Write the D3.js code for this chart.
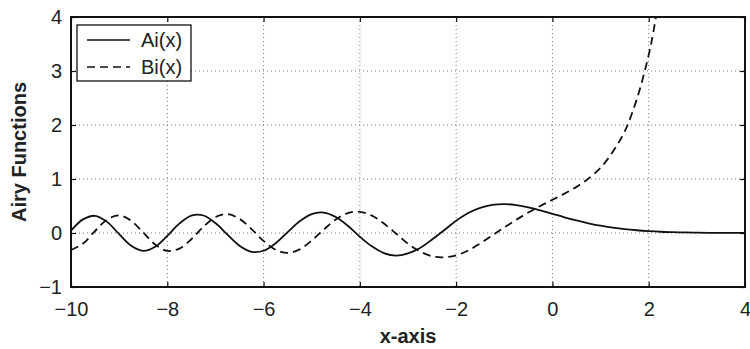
<!DOCTYPE html>
<html>
<head>
<meta charset="utf-8">
<script src="https://cdn.jsdelivr.net/npm/d3@7"></script>
<style>
	body { margin: 0; background: #fff; }
	svg { display: block; font-family: "Liberation Sans", Arial, sans-serif; }
	.tick-label { font-size: 20px; fill: #222; }
	.axis-title { font-size: 20px; font-weight: bold; fill: #222; }
</style>
</head>
<body>
<svg id="chart" width="750" height="349"></svg>
<script>
// values
const xVals = [-10, -9.75, -9.5, -9.25, -9, -8.75, -8.5, -8.25, -8, -7.75, -7.5, -7.25, -7, -6.75, -6.5, -6.25, -6,
	-5.75, -5.5, -5.25, -5, -4.75, -4.5, -4.25, -4, -3.75, -3.5, -3.25, -3, -2.75, -2.5, -2.25, -2,
	-1.75, -1.5, -1.25, -1, -0.75, -0.5, -0.25, 0, 0.25, 0.5, 0.75, 1, 1.25, 1.5, 1.75, 2,
	2.25, 2.5, 2.75, 3, 3.25, 3.5, 3.75, 4];
const aiVals = [0.042, 0.252, 0.319, 0.206, -0.022, -0.237, -0.330, -0.255, -0.053, 0.173, 0.321, 0.324, 0.184, -0.031, -0.237, -0.349, -0.329,
	-0.191, 0.015, 0.217, 0.351, 0.377, 0.295, 0.133, -0.070, -0.247, -0.373, -0.420, -0.379, -0.277, -0.120, 0.050, 0.227,
	0.370, 0.464, 0.520, 0.536, 0.516, 0.476, 0.419, 0.355, 0.291, 0.232, 0.180, 0.135, 0.100, 0.072, 0.051, 0.035,
	0.023, 0.016, 0.010, 0.0066, 0.0041, 0.0025, 0.0015, 0.0010];
const biXVals = [-10, -9.75, -9.5, -9.25, -9, -8.75, -8.5, -8.25, -8, -7.75, -7.5, -7.25, -7, -6.75, -6.5, -6.25, -6,
	-5.75, -5.5, -5.25, -5, -4.75, -4.5, -4.25, -4, -3.75, -3.5, -3.25, -3, -2.75, -2.5, -2.25, -2,
	-1.75, -1.5, -1.25, -1, -0.75, -0.5, -0.25, 0, 0.25, 0.5, 0.75, 1, 1.25, 1.5, 1.75, 2, 2.1, 2.2];
const biVals = [-0.315, -0.196, 0.037, 0.249, 0.325, 0.226, 0.009, -0.214, -0.331, -0.290, -0.115, 0.114, 0.294, 0.349, 0.263, 0.073, -0.147,
	-0.310, -0.368, -0.303, -0.138, 0.063, 0.251, 0.370, 0.392, 0.321, 0.175, -0.009, -0.198, -0.340, -0.431, -0.450, -0.412,
	-0.325, -0.192, -0.047, 0.104, 0.245, 0.380, 0.501, 0.615, 0.729, 0.854, 1.010, 1.207, 1.500, 1.879, 2.470, 3.298, 3.740, 4.270];
const xTicks = [-10, -8, -6, -4, -2, 0, 2, 4];
const yTicks = [-1, 0, 1, 2, 3, 4];

const svg = d3.select("#chart"),
			margin = {top: 17, right: 5, bottom: 62, left: 71},
			width = 750 - margin.left - margin.right,
			height = 349 - margin.top - margin.bottom;

const x = d3.scaleLinear().domain([-10, 4]).range([margin.left, margin.left + width]),
			y = d3.scaleLinear().domain([-1, 4]).range([margin.top + height, margin.top]);

svg.append("defs").append("clipPath").attr("id", "clip")
	.append("rect")
	.attr("x", margin.left).attr("y", margin.top)
	.attr("width", width).attr("height", height);

// dotted grid
const grid = svg.append("g").attr("stroke", "#777").attr("stroke-width", 1).attr("stroke-dasharray", "1,3");
grid.selectAll(".gx").data(xTicks.slice(1, -1)).join("line")
	.attr("x1", d => x(d)).attr("x2", d => x(d))
	.attr("y1", margin.top).attr("y2", margin.top + height);
grid.selectAll(".gy").data(yTicks.slice(1, -1)).join("line")
	.attr("y1", d => y(d)).attr("y2", d => y(d))
	.attr("x1", margin.left).attr("x2", margin.left + width);

// curves
const line = d3.line().curve(d3.curveCatmullRom.alpha(0.5));
const plot = svg.append("g").attr("clip-path", "url(#clip)");
plot.append("path")
	.attr("d", line(xVals.map((v, i) => [x(v), y(aiVals[i])])))
	.attr("fill", "none").attr("stroke", "#111").attr("stroke-width", 1.8);
plot.append("path")
	.attr("d", line(biXVals.map((v, i) => [x(v), y(biVals[i])])))
	.attr("fill", "none").attr("stroke", "#111").attr("stroke-width", 1.8)
	.attr("stroke-dasharray", "8,5");

// axes: MATLAB style box with inward ticks
const tickLen = 5,
			minus = d => d < 0 ? "\u2212" + Math.abs(d) : d;
const axBottom = svg.append("g").attr("transform", `translate(0,${margin.top + height})`)
	.call(d3.axisBottom(x).tickValues(xTicks).tickSize(-tickLen).tickPadding(15).tickFormat(minus));
const axTop = svg.append("g").attr("transform", `translate(0,${margin.top})`)
	.call(d3.axisTop(x).tickValues(xTicks).tickSize(-tickLen).tickFormat(""));
const axLeft = svg.append("g").attr("transform", `translate(${margin.left},0)`)
	.call(d3.axisLeft(y).tickValues(yTicks).tickSize(-tickLen).tickPadding(9).tickFormat(minus));
const axRight = svg.append("g").attr("transform", `translate(${margin.left + width},0)`)
	.call(d3.axisRight(y).tickValues(yTicks).tickSize(-tickLen).tickFormat(""));

[axBottom, axTop, axLeft, axRight].forEach(g => {
	g.attr("font-size", null).attr("font-family", null);
	g.select(".domain").remove();
	g.selectAll(".tick line").attr("stroke", "#111").attr("stroke-width", 1.2);
	g.selectAll(".tick text").attr("class", "tick-label");
});

svg.append("rect")
	.attr("x", margin.left).attr("y", margin.top)
	.attr("width", width).attr("height", height)
	.attr("fill", "none").attr("stroke", "#111").attr("stroke-width", 2);

// labels
svg.append("text").attr("class", "axis-title")
	.attr("x", margin.left + width / 2).attr("y", 343)
	.attr("text-anchor", "middle").text("x-axis");
svg.append("text").attr("class", "axis-title")
	.attr("transform", `translate(26,${margin.top + height / 2}) rotate(-90)`)
	.attr("text-anchor", "middle").text("Airy Functions");

// legend
const legend = svg.append("g").attr("transform", "translate(77,25)");
legend.append("rect").attr("width", 114).attr("height", 56)
	.attr("fill", "#fff").attr("stroke", "#111").attr("stroke-width", 1.3);
const items = [{name: "Ai(x)", dash: null}, {name: "Bi(x)", dash: "8,5"}];
items.forEach((it, i) => {
	const row = legend.append("g").attr("transform", `translate(0,${15 + i * 27})`);
	row.append("line").attr("x1", 10).attr("x2", 53)
		.attr("stroke", "#111").attr("stroke-width", 1.4)
		.attr("stroke-dasharray", it.dash);
	row.append("text").attr("class", "tick-label").attr("x", 64).attr("dy", "0.35em").text(it.name);
});
</script>
</body>
</html>
